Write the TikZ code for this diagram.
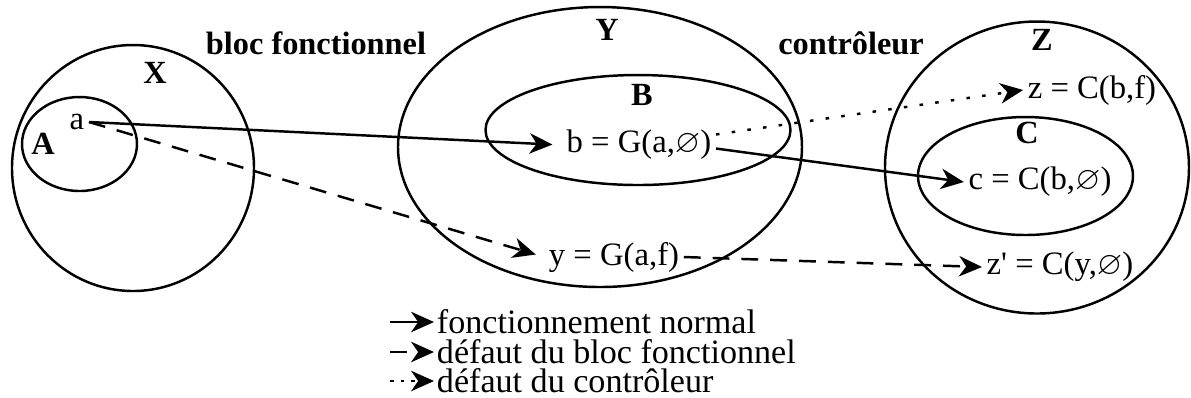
\documentclass[tikz,border=0pt]{standalone}
\usepackage{fontspec}
\usepackage{amssymb}
\setmainfont{Liberation Serif}
\usetikzlibrary{shapes.geometric, arrows.meta}

\begin{document}
\begin{tikzpicture}[
    >={Stealth[length=6.5pt, width=5.8pt, inset=2pt]}, line width=0.7pt,
    set/.style={draw, ellipse, inner sep=0pt},
    setname/.style={font=\fontsize{9.2}{11}\selectfont\bfseries},
    value/.style={inner sep=1pt, font=\fontsize{9.3}{11}\selectfont},
    legtext/.style={anchor=west, inner sep=0.5pt, font=\fontsize{9.7}{11}\selectfont},
    normal/.style={->},
    blocfault/.style={->, dash pattern=on 4.8pt off 3.4pt},
    ctrlfault/.style={->, dash pattern=on 1pt off 3.5pt}
]
\useasboundingbox (0,0) rectangle (11.91,-3.97);

% ensembles
\node[set, minimum width=2.42cm, minimum height=2.46cm] (SetX) at (1.33,-1.68) {};
\node[set, minimum width=1.15cm, minimum height=0.94cm] (SetA) at (0.795,-1.44) {};
\node[set, minimum width=4.04cm, minimum height=2.80cm] (SetY) at (6.00,-1.47) {};
\node[set, minimum width=3.05cm, minimum height=1.10cm] (SetB) at (6.38,-1.30) {};
\node[set, minimum width=3.04cm, minimum height=2.92cm] (SetZ) at (10.37,-1.675) {};
\node[set, minimum width=2.15cm, minimum height=1.18cm] (SetC) at (10.255,-1.76) {};

\node[setname] (NameX) at (1.55,-0.73) {X};
\node[setname] (NameA) at (0.43,-1.44) {A};
\node[setname] (NameY) at (6.07,-0.30) {Y};
\node[setname] (NameB) at (6.42,-0.95) {B};
\node[setname] (NameZ) at (10.42,-0.40) {Z};
\node[setname] (NameC) at (10.27,-1.33) {C};

\node[setname] (Bloc) at (3.16,-0.43) {bloc fonctionnel};
\node[setname] (Ctrl) at (8.51,-0.43) {contrôleur};

% valeurs
\node[value] (ValA) at (0.77,-1.22) {a};
\node[value] (ValB) at (6.39,-1.45) {b = G(a,$\varnothing$)};
\node[value] (ValY) at (6.14,-2.57) {y = G(a,f)};
\node[value] (ValZ) at (10.92,-0.90) {z = C(b,f)};
\node[value] (ValC) at (10.40,-1.82) {c = C(b,$\varnothing$)};
\node[value] (ValZp) at (10.60,-2.67) {z\textquotesingle{} = C(y,$\varnothing$)};

\draw[normal, shorten >=2.7pt] (ValA.east) -- (ValB.west);
\draw[blocfault, shorten >=2.5pt] (ValA.east) -- (ValY.west);
\draw[ctrlfault] ([yshift=3pt]ValB.east) -- (ValZ.west);
\draw[normal] ([yshift=-1pt]ValB.east) -- (ValC.west);
\draw[blocfault] (ValY.east) -- (ValZp.west);

% legende
\node[legtext] (Leg1) at (4.34,-3.22) {fonctionnement normal};
\node[legtext] (Leg2) at (4.34,-3.52) {défaut du bloc fonctionnel};
\node[legtext] (Leg3) at (4.34,-3.81) {défaut du contrôleur};
\coordinate (Leg1s) at (3.90,-3.22);
\coordinate (Leg2s) at (3.90,-3.52);
\coordinate (Leg3s) at (3.90,-3.81);
\draw[normal] (Leg1s) -- (Leg1.west);
\draw[blocfault] (Leg2s) -- (Leg2.west);
\draw[ctrlfault, dash pattern=on 1pt off 2pt] (Leg3s) -- (Leg3.west);

\end{tikzpicture}
\end{document}
